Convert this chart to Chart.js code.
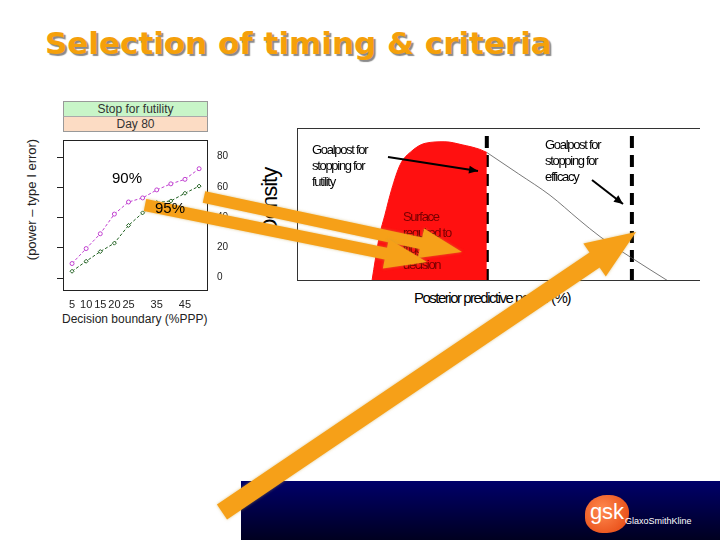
<!DOCTYPE html>
<html>
<head>
<meta charset="utf-8">
<script src="https://cdn.jsdelivr.net/npm/chart.js@4"></script>
<style>
  body { margin: 0; width: 720px; height: 540px; background: #fff; position: relative; overflow: hidden; font-family: Arial, "Liberation Sans", sans-serif; }
  .abs { position: absolute; }
  #title { left: 45px; top: 25px; font: bold 31px Verdana, "DejaVu Sans", sans-serif; color: #f5a00a; text-shadow: 2px 2px 1px #8a8a8a; }
  #footer { left: 241px; top: 481px; width: 479px; height: 59px; background: linear-gradient(#00006a, #000020); }
  .note { font-size: 13px; letter-spacing: -1.3px; line-height: 16px; color: #000; }
</style>
</head>
<body>
<div id="title" class="abs">Selection of timing &amp; criteria</div>

<!-- left chart header -->
<div class="abs" style="left:63px;top:101px;width:143px;height:14px;background:#c8f5c8;border:1px solid #999;border-bottom:none;font-size:12px;text-align:center;line-height:14px;color:#333;">Stop for futility</div>
<div class="abs" style="left:63px;top:116px;width:143px;height:14px;background:#fcdcc4;border:1px solid #999;border-top:1px solid #aaa;font-size:12px;text-align:center;line-height:14px;color:#333;">Day 80</div>
<div class="abs" style="left:55px;top:130px;width:190px;height:180px;"><canvas id="left"></canvas></div>
<div class="abs" style="left:62px;top:312px;font-size:12px;color:#222;">Decision boundary (%PPP)</div>
<div class="abs" style="left:-64px;top:192px;width:190px;font-size:13px;transform:rotate(-90deg);text-align:center;color:#222;">(power – type I error)</div>

<!-- right chart -->
<div class="abs" style="left:297px;top:128px;width:403px;height:153px;"><canvas id="right"></canvas></div>
<div class="abs" style="left:230px;top:188px;width:80px;font-size:22px;transform:rotate(-90deg);text-align:center;letter-spacing:-1px;">Density</div>
<div class="abs note" style="left:414px;top:290px;font-size:15px;letter-spacing:-1.5px;">Posterior predictive power (%)</div>
<div class="abs note" style="left:312px;top:142px;">Goalpost for<br>stopping for<br>futility</div>
<div class="abs note" style="left:545px;top:137px;">Goalpost for<br>stopping for<br>efficacy</div>
<div class="abs note" style="left:403px;top:209px;color:#700;">Surface<br>required to<br>trigger<br>decision</div>

<div id="footer" class="abs">
  <div class="abs" style="left:344px;top:14px;width:44px;height:38px;border-radius:50% 45% 50% 40%;background:radial-gradient(circle at 40% 40%,#ff8a50,#e3400a);color:#fff;font-size:22px;line-height:34px;text-align:center;">gsk</div>
  <div class="abs" style="left:384px;top:35px;color:#fff;font-size:9px;">GlaxoSmithKline</div>
</div>

<div class="abs" style="left:112px;top:169px;font-size:15px;">90%</div>
<canvas id="overlay" class="abs" width="720" height="540" style="left:0;top:0;"></canvas>
<div class="abs" style="left:155px;top:199px;font-size:15px;">95%</div>

<script>
// ===============================
//  DATA
// ===============================
const boundary = [5, 10, 15, 20, 25, 30, 35, 40, 45, 50];
const power90 = [9.3, 19.2, 29, 42, 50, 52.7, 58, 62, 65, 72];
const power95 = [4.2, 10.8, 17.2, 22.8, 34.5, 42.8, 49.6, 50.7, 55.8, 60.5];
const xTicks = [5, 10, 15, 20, 25, 35, 45];
const yTicks = [0, 20, 40, 60, 80];

const ppX = [18.6, 19.5, 20.5, 21.8, 23.5, 25.6, 28.5, 31.8, 36.7, 41, 45.4, 47.1];
const ppRed = [0, 15, 30, 43, 60, 76, 85, 90, 91, 89, 86, 84];
const tailX = [47.1, 55, 62.8, 70, 75.2, 83.1, 92.1];
const tailY = [84, 70, 56, 40, 29, 15, 0];
const futility = 47.1;
const efficacy = 83.1;

// ===============================
//  LEFT CHART
// ===============================
const leftTicks = {
  id: "leftTicks",
  afterDraw(c) {
    const g = c.ctx, y = c.scales.y, a = c.chartArea;
    g.save();
    g.strokeStyle = "#222"; g.lineWidth = 1;
    yTicks.forEach(v => {
      const p = Math.round(y.getPixelForValue(v)) + 0.5;
      g.beginPath(); g.moveTo(a.left - 6, p); g.lineTo(a.left, p); g.stroke();
    });
    g.strokeRect(a.left + 0.5, a.top + 0.5, a.right - a.left, a.bottom - a.top);
    g.restore();
  }
};

new Chart(document.getElementById("left"), {
  type: "line",
  data: {
    datasets: [
      { data: boundary.map((x, i) => ({ x, y: power90[i] })), borderColor: "#c040d0", borderWidth: 1, borderDash: [3, 2],
        pointStyle: "circle", pointRadius: 2, pointBorderColor: "#c040d0", pointBackgroundColor: "#fff", tension: 0 },
      { data: boundary.map((x, i) => ({ x, y: power95[i] })), borderColor: "#206020", borderWidth: 1, borderDash: [3, 2],
        pointStyle: "rectRot", pointRadius: 2, pointBorderColor: "#206020", pointBackgroundColor: "#fff", tension: 0 }
    ]
  },
  options: {
    responsive: true, maintainAspectRatio: false, animation: false,
    layout: { padding: { left: 8, top: 0, right: 0, bottom: 0 } },
    plugins: { legend: { display: false }, tooltip: { enabled: false } },
    scales: {
      x: {
        type: "linear", min: 1.8, max: 52.8,
        afterBuildTicks: s => { s.ticks = xTicks.map(v => ({ value: v })); },
        afterFit: s => { s.height = 20; },
        grid: { display: false, drawTicks: true, tickLength: 6, tickColor: "#222" },
        border: { display: false },
        ticks: { color: "#222", font: { size: 11 }, padding: 2, maxRotation: 0, autoSkip: false }
      },
      y: {
        position: "right", min: -8.2, max: 91,
        afterBuildTicks: s => { s.ticks = yTicks.map(v => ({ value: v })); },
        afterFit: s => { s.width = 38; },
        grid: { display: false, tickLength: 6, tickColor: "#222" },
        border: { display: false },
        ticks: { color: "#222", font: { size: 10 }, padding: 4 }
      }
    }
  },
  plugins: [leftTicks]
});

// ===============================
//  RIGHT CHART
// ===============================
const frame = {
  id: "frame",
  afterDraw(c) {
    const g = c.ctx, a = c.chartArea;
    g.save(); g.strokeStyle = "#333"; g.lineWidth = 1;
    g.strokeRect(a.left + 0.5, a.top + 0.5, a.right - a.left, a.bottom - a.top - 1);
    g.restore();
  }
};

new Chart(document.getElementById("right"), {
  type: "scatter",
  data: {
    datasets: [
      { data: ppX.map((x, i) => ({ x, y: ppRed[i] })), showLine: true, fill: "origin",
        backgroundColor: "#ff1010", borderColor: "#ff1010", borderWidth: 1, pointRadius: 0, cubicInterpolationMode: "monotone" },
      { data: tailX.map((x, i) => ({ x, y: tailY[i] })), showLine: true, borderColor: "#555",
        borderWidth: 0.8, pointRadius: 0, cubicInterpolationMode: "monotone" },
      { data: [{ x: futility, y: 0 }, { x: futility, y: 100 }], showLine: true, borderColor: "#000",
        borderWidth: 4, borderDash: [12, 7], pointRadius: 0 },
      { data: [{ x: efficacy, y: 0 }, { x: efficacy, y: 100 }], showLine: true, borderColor: "#000",
        borderWidth: 4, borderDash: [12, 7], pointRadius: 0 }
    ]
  },
  options: {
    responsive: true, maintainAspectRatio: false, animation: false,
    layout: { padding: 0 },
    plugins: { legend: { display: false }, tooltip: { enabled: false } },
    scales: {
      x: { type: "linear", min: 0, max: 100, display: false },
      y: { min: 0, max: 100, display: false }
    }
  },
  plugins: [frame]
});

// ===============================
//  ARROWS
// ===============================
const g = document.getElementById("overlay").getContext("2d");

function blockArrow(x0, y0, x1, y1, w, hw, hl) {
  const a = Math.atan2(y1 - y0, x1 - x0), L = Math.hypot(x1 - x0, y1 - y0);
  g.save(); g.translate(x0, y0); g.rotate(a);
  g.beginPath();
  g.moveTo(0, -w / 2); g.lineTo(L - hl, -w / 2); g.lineTo(L - hl, -hw / 2);
  g.lineTo(L, 0); g.lineTo(L - hl, hw / 2); g.lineTo(L - hl, w / 2); g.lineTo(0, w / 2);
  g.closePath();
  g.shadowColor = "rgba(200,160,60,0.6)"; g.shadowBlur = 3;
  g.fillStyle = "#f6a018"; g.fill();
  g.restore();
}

function thinArrow(x0, y0, x1, y1) {
  const a = Math.atan2(y1 - y0, x1 - x0);
  g.save(); g.strokeStyle = "#000"; g.fillStyle = "#000"; g.lineWidth = 2;
  g.beginPath(); g.moveTo(x0, y0); g.lineTo(x1, y1); g.stroke();
  g.translate(x1, y1); g.rotate(a);
  g.beginPath(); g.moveTo(0, 0); g.lineTo(-9, -4); g.lineTo(-9, 4); g.closePath(); g.fill();
  g.restore();
}

thinArrow(388, 157, 478, 171);
thinArrow(592, 180, 623, 204);
blockArrow(204, 197, 462, 252, 12, 30, 42);
blockArrow(145, 205, 427, 262, 12, 30, 42);
blockArrow(222, 512, 636, 232, 18, 40, 50);
</script>
</body>
</html>
